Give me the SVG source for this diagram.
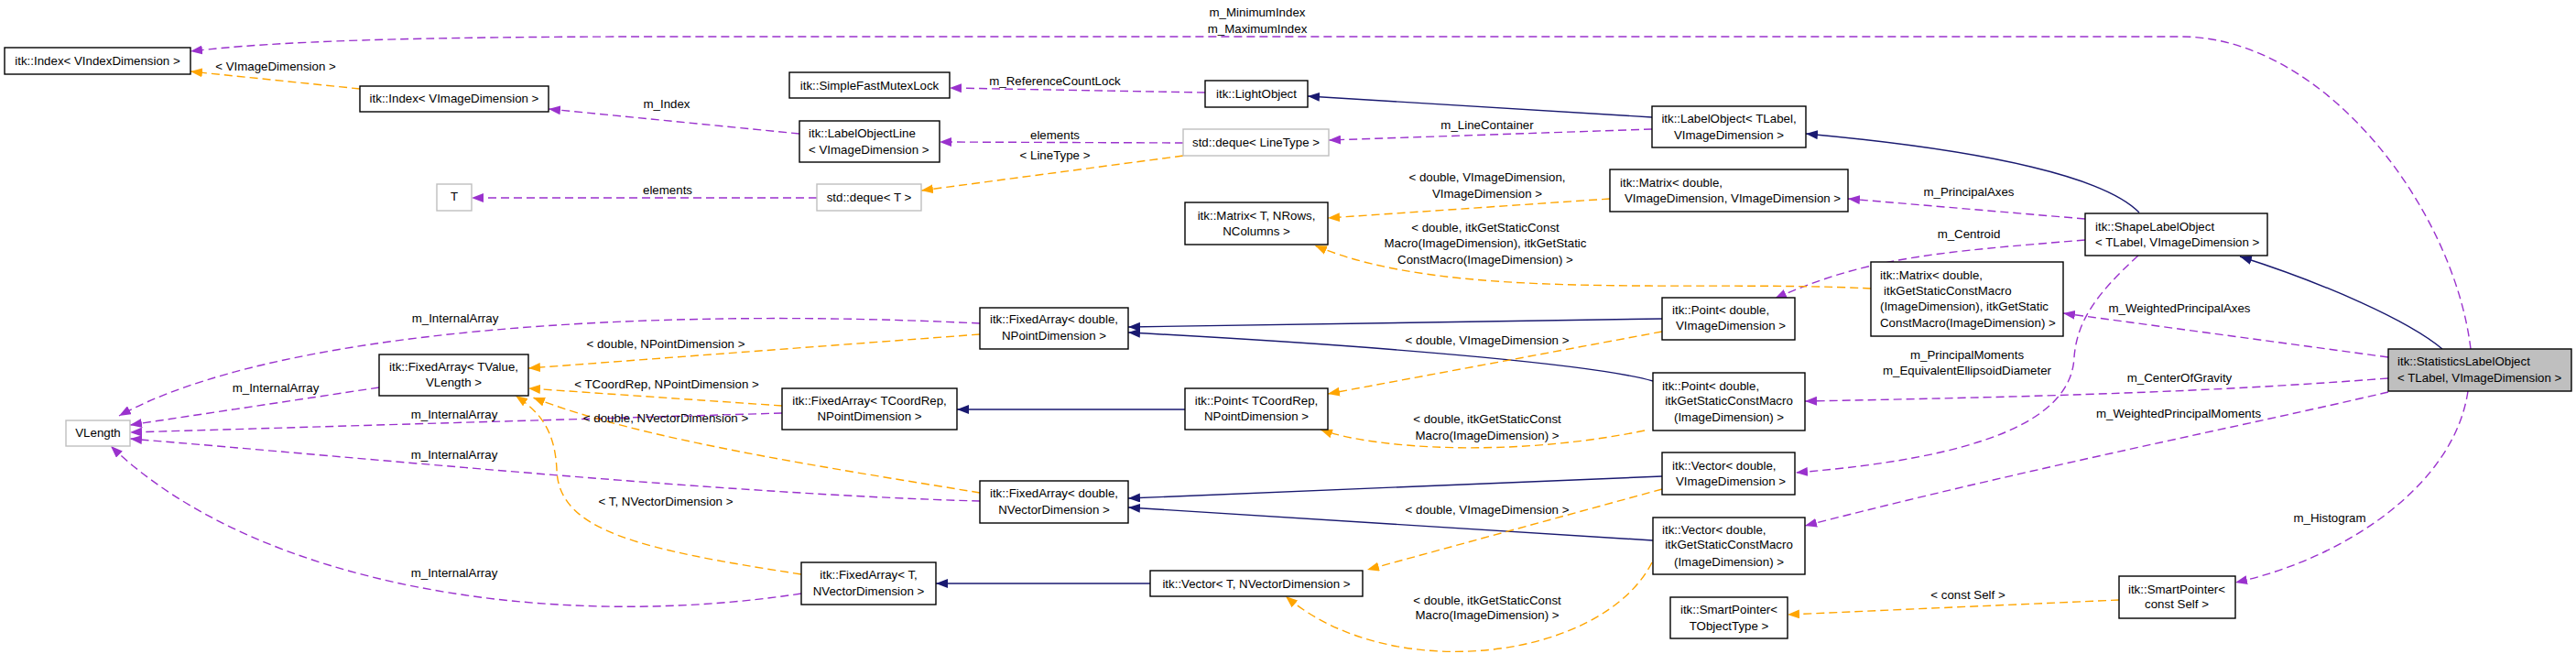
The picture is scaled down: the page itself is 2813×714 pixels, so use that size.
<svg xmlns="http://www.w3.org/2000/svg" width="2813" height="714" viewBox="0 0 2813 714">
<style>
text{font-family:"Liberation Sans",Arial,sans-serif;font-size:13.3px;fill:#000}
.m{text-anchor:middle}
.n rect{fill:#fff;stroke:#000;stroke-width:1.4}
.g rect{fill:#fff;stroke:#bfbfbf;stroke-width:1.4}
.s rect{fill:#bfbfbf;stroke:#000;stroke-width:1.4}
.e path{fill:none;stroke-width:1.4}
.u{stroke:#9a32cd;stroke-dasharray:9,5;marker-end:url(#au)}
.t{stroke:#ffa500;stroke-dasharray:9,5;marker-end:url(#at)}
.i{stroke:#191970;marker-end:url(#ai)}
</style>
<defs>
<marker id="au" viewBox="0 0 13 10" refX="13" refY="5" markerWidth="13" markerHeight="10" markerUnits="userSpaceOnUse" orient="auto"><path d="M0,0 L13,5 L0,10 z" fill="#9a32cd"/></marker>
<marker id="at" viewBox="0 0 13 10" refX="13" refY="5" markerWidth="13" markerHeight="10" markerUnits="userSpaceOnUse" orient="auto"><path d="M0,0 L13,5 L0,10 z" fill="#ffa500"/></marker>
<marker id="ai" viewBox="0 0 13 10" refX="13" refY="5" markerWidth="13" markerHeight="10" markerUnits="userSpaceOnUse" orient="auto"><path d="M0,0 L13,5 L0,10 z" fill="#191970"/></marker>
</defs>
<rect width="2813" height="714" fill="#fff"/>
<g id="edges" class="e">
<path class="u" d="M2698,381 C2680,230 2540,40 2381,40 L720,40 C450,40 300,45 208,56"/>
<path class="u" d="M2277,239 L2018,217"/>
<path class="u" d="M2277,262 C2120,275 2040,280 1938,326"/>
<path class="u" d="M2608,390 L2253,342"/>
<path class="u" d="M2335,279 C2290,320 2268,350 2265,390 C2262,460 2160,500 1961,516"/>
<path class="u" d="M2608,413 C2450,425 2300,432 1971,438"/>
<path class="u" d="M2608,428 C2450,465 2220,510 1971,574"/>
<path class="u" d="M2695,427 C2680,530 2560,610 2441,636"/>
<path class="u" d="M1316,101 L1037,96"/>
<path class="u" d="M1804,141 L1451,153"/>
<path class="u" d="M1292,156 L1026,155"/>
<path class="u" d="M873,146 L599,119"/>
<path class="u" d="M892,216 L515,216"/>
<path class="u" d="M414,423 L142,464"/>
<path class="u" d="M854,451 L142,472"/>
<path class="u" d="M1070,547 C800,540 400,500 142,479"/>
<path class="u" d="M875,648 C600,690 280,640 121,487"/>
<path class="u" d="M1070,353 C700,335 300,360 130,454"/>
<path class="i" d="M1804,128 L1428,105"/>
<path class="i" d="M2336,232 C2300,195 2180,165 1972,146"/>
<path class="i" d="M2667,381 C2630,350 2540,310 2446,280"/>
<path class="i" d="M1294,447 L1045,447"/>
<path class="i" d="M1815,348 L1232,357"/>
<path class="i" d="M1805,416 C1750,400 1550,380 1232,363"/>
<path class="i" d="M1815,520 L1232,544"/>
<path class="i" d="M1805,590 L1232,554"/>
<path class="i" d="M1256,637 L1022,637"/>
<path class="t" d="M393,97 L208,78"/>
<path class="t" d="M1292,170 L1006,208"/>
<path class="t" d="M1758,217 L1450,238"/>
<path class="t" d="M2043,315 C1850,305 1580,330 1436,268"/>
<path class="t" d="M1070,365 L577,402"/>
<path class="t" d="M854,443 L577,424"/>
<path class="t" d="M1070,538 C900,510 700,480 582,434"/>
<path class="t" d="M875,627 C700,600 610,580 608,513 C606,470 590,450 563,432"/>
<path class="t" d="M1815,362 L1450,430"/>
<path class="t" d="M1796,470 C1650,500 1500,490 1442,469"/>
<path class="t" d="M1815,534 L1493,622"/>
<path class="t" d="M1804,614 C1750,720 1520,750 1404,651"/>
<path class="t" d="M2314,655 L1952,671"/>
</g>
<g id="edge-labels" class="m">
<text class="m" x="1373" y="18">m_MinimumIndex</text>
<text class="m" x="1373" y="36">m_MaximumIndex</text>
<text class="m" x="1152" y="93">m_ReferenceCountLock</text>
<text class="m" x="1624" y="141">m_LineContainer</text>
<text class="m" x="1152" y="152">elements</text>
<text class="m" x="1152" y="174">&lt; LineType &gt;</text>
<text class="m" x="728" y="118">m_Index</text>
<text class="m" x="301" y="77">&lt; VImageDimension &gt;</text>
<text class="m" x="729" y="212">elements</text>
<text class="m" x="1624" y="198">&lt; double, VImageDimension,</text>
<text class="m" x="1624" y="216">VImageDimension &gt;</text>
<text class="m" x="1622" y="253">&lt; double, itkGetStaticConst</text>
<text class="m" x="1622" y="270">Macro(ImageDimension), itkGetStatic</text>
<text class="m" x="1622" y="288">ConstMacro(ImageDimension) &gt;</text>
<text class="m" x="2150" y="214">m_PrincipalAxes</text>
<text class="m" x="2150" y="260">m_Centroid</text>
<text class="m" x="2380" y="341">m_WeightedPrincipalAxes</text>
<text class="m" x="2148" y="392">m_PrincipalMoments</text>
<text class="m" x="2148" y="409">m_EquivalentEllipsoidDiameter</text>
<text class="m" x="2380" y="417">m_CenterOfGravity</text>
<text class="m" x="2379" y="456">m_WeightedPrincipalMoments</text>
<text class="m" x="2544" y="570">m_Histogram</text>
<text class="m" x="2149" y="654">&lt; const Self &gt;</text>
<text class="m" x="497" y="352">m_InternalArray</text>
<text class="m" x="727" y="380">&lt; double, NPointDimension &gt;</text>
<text class="m" x="301" y="428">m_InternalArray</text>
<text class="m" x="728" y="424">&lt; TCoordRep, NPointDimension &gt;</text>
<text class="m" x="496" y="457">m_InternalArray</text>
<text class="m" x="727" y="461">&lt; double, NVectorDimension &gt;</text>
<text class="m" x="496" y="501">m_InternalArray</text>
<text class="m" x="727" y="552">&lt; T, NVectorDimension &gt;</text>
<text class="m" x="496" y="630">m_InternalArray</text>
<text class="m" x="1624" y="376">&lt; double, VImageDimension &gt;</text>
<text class="m" x="1624" y="462">&lt; double, itkGetStaticConst</text>
<text class="m" x="1624" y="480">Macro(ImageDimension) &gt;</text>
<text class="m" x="1624" y="561">&lt; double, VImageDimension &gt;</text>
<text class="m" x="1624" y="660">&lt; double, itkGetStaticConst</text>
<text class="m" x="1624" y="676">Macro(ImageDimension) &gt;</text>
</g>
<g id="n1" class="n"><rect x="5" y="52" width="203" height="29"/><text class="m" x="106.5" y="71">itk::Index&lt; VIndexDimension &gt;</text></g>
<g id="n2" class="n"><rect x="393" y="94" width="206" height="28"/><text class="m" x="496" y="112">itk::Index&lt; VImageDimension &gt;</text></g>
<g id="n3" class="n"><rect x="862" y="79" width="175" height="28"/><text class="m" x="949.5" y="98">itk::SimpleFastMutexLock</text></g>
<g id="n4" class="n"><rect x="1316" y="88" width="112" height="29"/><text class="m" x="1372" y="107">itk::LightObject</text></g>
<g id="n5" class="n"><rect x="873" y="132" width="153" height="45"/><text x="883" y="150">itk::LabelObjectLine</text><text x="883" y="168">&lt; VImageDimension &gt;</text></g>
<g id="n6" class="g"><rect x="1292" y="141" width="159" height="29"/><text class="m" x="1371.5" y="160">std::deque&lt; LineType &gt;</text></g>
<g id="n7" class="g"><rect x="477" y="201" width="38" height="29"/><text class="m" x="496" y="219">T</text></g>
<g id="n8" class="g"><rect x="892" y="201" width="114" height="29"/><text class="m" x="949" y="220">std::deque&lt; T &gt;</text></g>
<g id="n9" class="n"><rect x="1804" y="116" width="168" height="45"/><text class="m" x="1888" y="134">itk::LabelObject&lt; TLabel,</text><text class="m" x="1888" y="152">VImageDimension &gt;</text></g>
<g id="n10" class="n"><rect x="1294" y="221" width="156" height="46"/><text class="m" x="1372" y="240">itk::Matrix&lt; T, NRows,</text><text class="m" x="1372" y="257">NColumns &gt;</text></g>
<g id="n11" class="n"><rect x="1758" y="185" width="260" height="46"/><text x="1769" y="204">itk::Matrix&lt; double,</text><text x="1774" y="221">VImageDimension, VImageDimension &gt;</text></g>
<g id="n12" class="n"><rect x="2277" y="233" width="199" height="46"/><text x="2288" y="252">itk::ShapeLabelObject</text><text x="2288" y="269">&lt; TLabel, VImageDimension &gt;</text></g>
<g id="n13" class="n"><rect x="2043" y="286" width="210" height="81"/><text x="2053" y="305">itk::Matrix&lt; double,</text><text x="2057" y="322">itkGetStaticConstMacro</text><text x="2053" y="339">(ImageDimension), itkGetStatic</text><text x="2053" y="357">ConstMacro(ImageDimension) &gt;</text></g>
<g id="n14" class="n"><rect x="1815" y="325" width="145" height="46"/><text x="1826" y="343">itk::Point&lt; double,</text><text x="1830" y="360">VImageDimension &gt;</text></g>
<g id="n15" class="n"><rect x="1070" y="336" width="162" height="45"/><text class="m" x="1151" y="353">itk::FixedArray&lt; double,</text><text class="m" x="1151" y="371">NPointDimension &gt;</text></g>
<g id="n16" class="n"><rect x="414" y="387" width="163" height="45"/><text class="m" x="495.5" y="405">itk::FixedArray&lt; TValue,</text><text class="m" x="495.5" y="422">VLength &gt;</text></g>
<g id="n17" class="n"><rect x="854" y="424" width="191" height="45"/><text class="m" x="949.5" y="442">itk::FixedArray&lt; TCoordRep,</text><text class="m" x="949.5" y="459">NPointDimension &gt;</text></g>
<g id="n18" class="n"><rect x="1294" y="424" width="156" height="45"/><text class="m" x="1372" y="442">itk::Point&lt; TCoordRep,</text><text class="m" x="1372" y="459">NPointDimension &gt;</text></g>
<g id="n19" class="n"><rect x="1805" y="407" width="166" height="63"/><text x="1815" y="426">itk::Point&lt; double,</text><text class="m" x="1888" y="442">itkGetStaticConstMacro</text><text class="m" x="1888" y="460">(ImageDimension) &gt;</text></g>
<g id="n20" class="g"><rect x="72" y="459" width="70" height="28"/><text class="m" x="107" y="477">VLength</text></g>
<g id="n21" class="n"><rect x="1815" y="494" width="145" height="46"/><text x="1826" y="513">itk::Vector&lt; double,</text><text x="1830" y="530">VImageDimension &gt;</text></g>
<g id="n22" class="n"><rect x="1070" y="525" width="162" height="46"/><text class="m" x="1151" y="543">itk::FixedArray&lt; double,</text><text class="m" x="1151" y="561">NVectorDimension &gt;</text></g>
<g id="n23" class="n"><rect x="1805" y="565" width="166" height="62"/><text x="1815" y="583">itk::Vector&lt; double,</text><text class="m" x="1888" y="599">itkGetStaticConstMacro</text><text class="m" x="1888" y="618">(ImageDimension) &gt;</text></g>
<g id="n24" class="n"><rect x="875" y="614" width="147" height="46"/><text class="m" x="948.5" y="632">itk::FixedArray&lt; T,</text><text class="m" x="948.5" y="650">NVectorDimension &gt;</text></g>
<g id="n25" class="n"><rect x="1256" y="623" width="232" height="28"/><text class="m" x="1372" y="642">itk::Vector&lt; T, NVectorDimension &gt;</text></g>
<g id="n26" class="s"><rect x="2608" y="381" width="200" height="46"/><text x="2618" y="399">itk::StatisticsLabelObject</text><text x="2618" y="417">&lt; TLabel, VImageDimension &gt;</text></g>
<g id="n27" class="n"><rect x="2314" y="629" width="127" height="46"/><text class="m" x="2377" y="648">itk::SmartPointer&lt;</text><text class="m" x="2377" y="664">const Self &gt;</text></g>
<g id="n28" class="n"><rect x="1824" y="652" width="128" height="45"/><text class="m" x="1888" y="670">itk::SmartPointer&lt;</text><text class="m" x="1888" y="688">TObjectType &gt;</text></g>
</svg>
